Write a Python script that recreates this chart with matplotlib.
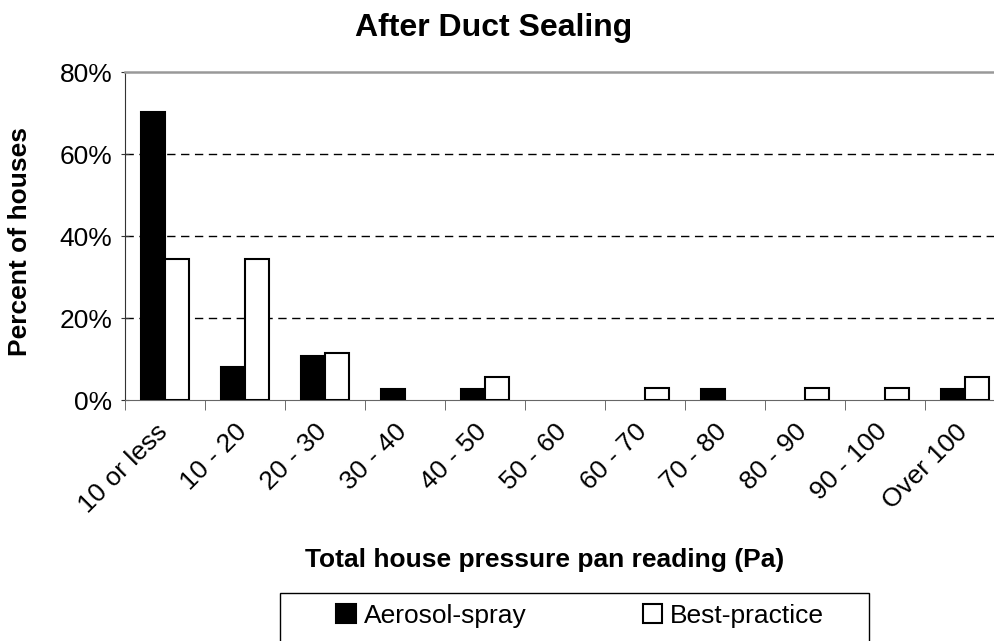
import matplotlib
matplotlib.use("Agg")
import matplotlib.pyplot as plt
import numpy as np
from matplotlib.patches import Rectangle
from matplotlib.transforms import ScaledTranslation

plt.rcParams["font.family"] = ["Liberation Sans", "DejaVu Sans"]

categories = ["10 or less", "10 - 20", "20 - 30", "30 - 40", "40 - 50", "50 - 60",
              "60 - 70", "70 - 80", "80 - 90", "90 - 100", "Over 100"]
aerosol = [70.3, 8.1, 10.8, 2.7, 2.7, 0, 0, 2.7, 0, 0, 2.7]
best = [34.3, 34.3, 11.4, 0, 5.7, 0, 2.9, 0, 2.9, 2.9, 5.7]

W, H = 995, 641
fig = plt.figure(figsize=(W / 100, H / 100), dpi=100)
# plot area runs a little past the right edge, like the original
ax = fig.add_axes([125 / W, 1 - 400 / H, 880 / W, 328 / H])

x = np.arange(len(categories))
bw = 0.295
ax.bar(x - bw / 2, aerosol, bw, color="black", edgecolor="black",
       linewidth=[1.5 if v > 0 else 0 for v in aerosol],
       label="Aerosol-spray", zorder=3)
ax.bar(x + bw / 2, best, bw, color="white", edgecolor="black",
       linewidth=[1.5 if v > 0 else 0 for v in best],
       label="Best-practice", zorder=3)

ax.set_xlim(-0.5, len(categories) - 0.5)
ax.set_ylim(0, 80)
ax.set_yticks([0, 20, 40, 60, 80])
ax.set_yticklabels(["0%", "20%", "40%", "60%", "80%"], fontsize=19)
for yv in [20, 40, 60]:
    ax.axhline(yv, color="black", linestyle=(0, (6, 4)), linewidth=1, zorder=1)

ax.set_xticks(x)
ax.set_xticklabels(categories, fontsize=19, rotation=45, ha="right", va="top",
                   rotation_mode="anchor")
ax.tick_params(axis="x", which="major", length=0, pad=14)
shift = ScaledTranslation(-10 / 100, 0, fig.dpi_scale_trans)
for lab in ax.get_xticklabels():
    lab.set_transform(lab.get_transform() + shift)
ax.set_xticks(np.arange(-0.5, len(categories), 1), minor=True)
ax.tick_params(axis="x", which="minor", length=7, direction="out", color="#555555")
ax.tick_params(axis="y", length=6, direction="inout", color="#333333", pad=6)

ax.spines["right"].set_visible(False)
ax.spines["top"].set_color("#999999")
ax.spines["top"].set_linewidth(1.8)
ax.spines["left"].set_color("#333333")
ax.spines["bottom"].set_color("#666666")

fig.text(494 / W, 1 - 28 / H, "After Duct Sealing", fontsize=23, fontweight="bold",
         ha="center", va="center")
fig.text(545 / W, 1 - 560 / H, "Total house pressure pan reading (Pa)", fontsize=19,
         fontweight="bold", ha="center", va="center")
fig.text(20 / W, 1 - 241 / H, "Percent of houses", fontsize=19, fontweight="bold",
         rotation=90, ha="center", va="center")

# legend frame, cut off by the bottom edge as in the original
fig.patches.append(Rectangle((280 / W, -10 / H), 589 / W, (641 - 593 + 10) / H,
                             transform=fig.transFigure, facecolor="white",
                             edgecolor="black", linewidth=1))
fig.legend(loc="center left", bbox_to_anchor=(336 / W, 1 - 616 / H), ncol=2,
           frameon=False, fontsize=19, handlelength=0.75, handleheight=0.75,
           handletextpad=0.3, columnspacing=4.4, borderpad=0, borderaxespad=0)

fig.savefig("out.png", dpi=100)
